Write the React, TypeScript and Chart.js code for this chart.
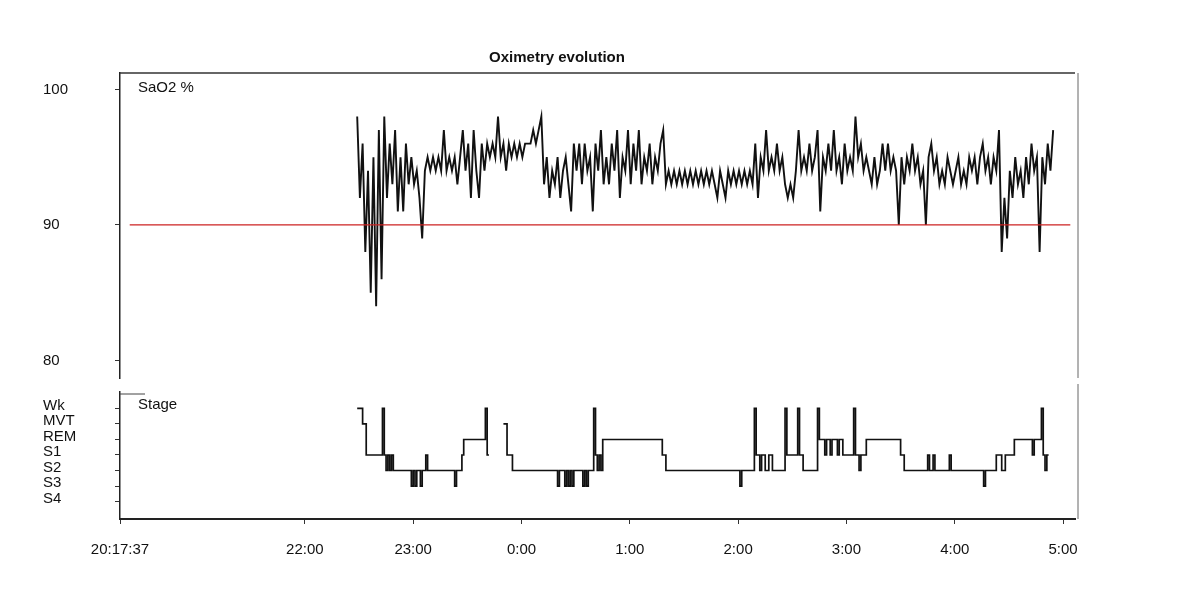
import React, { useEffect, useRef } from "react";
import { Chart, registerables } from "chart.js";

Chart.register(...registerables);

// ---------- text ----------
const TITLE = "Oximetry evolution";
const SPO2_LABEL = "SaO2 %";
const STAGE_LABEL = "Stage";

// ---------- time axis ----------
const START_TIME = "20:17:37";
const END_TIME = "5:06:36";
const X_TICK_LABELS = ["20:17:37", "22:00", "23:00", "0:00", "1:00", "2:00", "3:00", "4:00", "5:00"];

// ---------- SpO2 ----------
const SPO2_TICKS = [80, 90, 100];
const SPO2_THRESHOLD = 90;
const THRESHOLD_FROM = "20:23";
const THRESHOLD_TO = "5:04";
const SPO2_START = "22:29";
const SPO2_STEP_MIN = 1.5;
const SPO2_VALUES = [
  98, 92, 96, 88, 94, 85, 95, 84, 97, 86,
  98, 92, 96, 93, 97, 91, 95, 91, 96, 93,
  95, 93, 94, 92, 89, 94, 95, 94, 95, 94,
  95, 94, 97, 94, 95, 94, 95, 93, 95, 97,
  94, 96, 92, 97, 94, 92, 96, 94, 96, 95,
  96, 95, 98, 95, 96, 94, 96, 95, 96, 95,
  96, 95, 96, 96, 96, 97, 96, 97, 98, 93,
  95, 92, 94, 93, 95, 92, 94, 95, 93, 91,
  96, 94, 96, 93, 96, 94, 95, 91, 96, 94,
  97, 93, 95, 93, 96, 94, 97, 92, 95, 94,
  97, 93, 96, 94, 97, 93, 95, 94, 96, 93,
  95, 94, 96, 97, 93, 94, 93, 94, 93, 94,
  93, 94, 93, 94, 93, 94, 93, 94, 93, 94,
  93, 94, 93, 92, 94, 93, 92, 94, 93, 94,
  93, 94, 93, 94, 93, 94, 93, 96, 92, 95,
  94, 97, 94, 95, 94, 96, 94, 95, 93, 92,
  93, 92, 94, 97, 94, 95, 94, 96, 94, 95,
  97, 91, 95, 94, 96, 94, 97, 94, 95, 93,
  96, 94, 95, 94, 98, 95, 96, 94, 95, 94,
  93, 95, 93, 94, 96, 94, 96, 94, 95, 94,
  90, 95, 93, 95, 94, 96, 94, 95, 93, 94,
  90, 95, 96, 94, 95, 93, 94, 93, 95, 94,
  93, 94, 95, 93, 94, 93, 95, 94, 95, 93,
  95, 96, 94, 95, 93, 95, 94, 97, 88, 92,
  89, 94, 92, 95, 93, 94, 92, 95, 93, 96,
  94, 95, 88, 95, 93, 96, 94, 97,
];

// ---------- sleep stages ----------
const STAGE_NAMES = ["Wk", "MVT", "REM", "S1", "S2", "S3", "S4"];
const STAGE_TIMES = [
  "22:29", "22:32", "22:34", "22:43", "22:44", "22:45", "22:46", "22:47", "22:48", "22:49",
  "22:59", "23:00", "23:01", "23:02", "23:04", "23:05", "23:07", "23:08", "23:23", "23:24",
  "23:27", "23:28", "23:40", "23:41", "23:42", "23:46",
  "23:50", "23:52", "23:55", "0:20", "0:21", "0:24", "0:25", "0:26", "0:27", "0:28",
  "0:29", "0:34", "0:35", "0:36", "0:37", "0:40", "0:41", "0:42", "0:43", "0:44",
  "0:45", "1:18", "1:20", "2:01", "2:02", "2:09", "2:10", "2:12", "2:13", "2:15",
  "2:17", "2:19", "2:26", "2:27", "2:33", "2:34", "2:36", "2:44", "2:45", "2:48",
  "2:49", "2:51", "2:52", "2:55", "2:56", "2:58", "3:04", "3:05", "3:07", "3:08",
  "3:11", "3:30", "3:32", "3:45", "3:46", "3:48", "3:49", "3:57", "3:58", "4:16",
  "4:17", "4:23", "4:26", "4:28", "4:33", "4:43", "4:44", "4:48", "4:49", "4:50",
  "4:51", "4:52",
];
const STAGE_VALUES: (string | null)[] = [
  "Wk", "MVT", "S1", "Wk", "S1", "S2", "S1", "S2", "S1", "S2",
  "S3", "S2", "S3", "S2", "S3", "S2", "S1", "S2", "S3", "S2",
  "S1", "REM", "Wk", "S1", "S1", null,
  "MVT", "S1", "S2", "S3", "S2", "S3", "S2", "S3", "S2", "S3",
  "S2", "S3", "S2", "S3", "S2", "Wk", "S1", "S2", "S1", "S2",
  "REM", "S1", "S2", "S3", "S2", "Wk", "S1", "S2", "S1", "S2",
  "S1", "S2", "Wk", "S1", "Wk", "S1", "S2", "Wk", "REM", "S1",
  "REM", "S1", "REM", "S1", "REM", "S1", "Wk", "S1", "S2", "S1",
  "REM", "S1", "S2", "S1", "S2", "S1", "S2", "S1", "S2", "S3",
  "S2", "S1", "S2", "S1", "REM", "S1", "REM", "Wk", "S1", "S2",
  "S1", "S1",
];

// ---------- helpers ----------
function toHours(t: string): number {
  const p = t.split(":").map(Number);
  let h = p[0] + (p[1] || 0) / 60 + (p[2] || 0) / 3600;
  if (p[0] < 12) h += 24;
  return h;
}

const FONT = '"Liberation Sans", Arial, sans-serif';
const INK = "#111111";
const X_MIN = toHours(START_TIME);
const X_MAX = toHours(END_TIME);
const LEFT_PAD = 43;
const AXIS_W = 77;
const RIGHT_PAD = 107;

const topDecor = {
  id: "topDecor",
  afterDraw(chart: any) {
    const { ctx, chartArea: a } = chart;
    ctx.save();
    ctx.strokeStyle = "#333";
    ctx.lineWidth = 1.5;
    ctx.beginPath();
    ctx.moveTo(a.left, a.top);
    ctx.lineTo(a.right, a.top);
    ctx.stroke();
    ctx.strokeStyle = "#666";
    ctx.lineWidth = 1;
    ctx.beginPath();
    ctx.moveTo(a.right + 3, a.top);
    ctx.lineTo(a.right + 3, a.bottom);
    ctx.stroke();
    ctx.fillStyle = INK;
    ctx.textBaseline = "middle";
    ctx.textAlign = "center";
    ctx.font = `bold 15px ${FONT}`;
    ctx.fillText(TITLE, a.left + 437, a.top - 15);
    ctx.textAlign = "left";
    ctx.font = `15px ${FONT}`;
    ctx.fillText(SPO2_LABEL, a.left + 18, a.top + 15);
    ctx.restore();
  },
};

const bottomDecor = {
  id: "bottomDecor",
  afterDraw(chart: any) {
    const { ctx, chartArea: a } = chart;
    ctx.save();
    ctx.strokeStyle = "#666";
    ctx.lineWidth = 1;
    ctx.beginPath();
    ctx.moveTo(a.right + 3, a.top - 8);
    ctx.lineTo(a.right + 3, a.bottom);
    ctx.stroke();
    ctx.strokeStyle = "#444";
    ctx.beginPath();
    ctx.moveTo(a.left, a.top + 2);
    ctx.lineTo(a.left + 25, a.top + 2);
    ctx.stroke();
    ctx.fillStyle = INK;
    ctx.textBaseline = "middle";
    ctx.textAlign = "left";
    ctx.font = `15px ${FONT}`;
    ctx.fillText(STAGE_LABEL, a.left + 18, a.top + 13);
    ctx.restore();
  },
};

export default function App() {
  const topRef = useRef<HTMLCanvasElement | null>(null);
  const botRef = useRef<HTMLCanvasElement | null>(null);

  useEffect(() => {
    const t0 = toHours(SPO2_START);
    const spo2Points = SPO2_VALUES.map((v, i) => ({ x: t0 + (i * SPO2_STEP_MIN) / 60, y: v }));
    const thresholdPoints = [
      { x: toHours(THRESHOLD_FROM), y: SPO2_THRESHOLD },
      { x: toHours(THRESHOLD_TO), y: SPO2_THRESHOLD },
    ];
    const stagePoints = STAGE_TIMES.map((t, i) => ({
      x: toHours(t),
      y: STAGE_VALUES[i] === null ? null : STAGE_NAMES.indexOf(STAGE_VALUES[i] as string),
    }));

    const tickFont = { family: FONT, size: 15 };

    const top = new Chart(topRef.current as HTMLCanvasElement, {
      type: "line",
      data: {
        datasets: [
          {
            data: thresholdPoints,
            borderColor: "#cc2222",
            borderWidth: 1.3,
            pointRadius: 0,
            order: 0,
          },
          {
            data: spo2Points,
            borderColor: INK,
            borderWidth: 1.9,
            pointRadius: 0,
            tension: 0,
            order: 1,
          },
        ],
      },
      options: {
        responsive: false,
        animation: false,
        events: [],
        layout: { padding: { left: LEFT_PAD, right: RIGHT_PAD, top: 73, bottom: 2 } },
        plugins: { legend: { display: false }, tooltip: { enabled: false } },
        scales: {
          x: { type: "linear", min: X_MIN, max: X_MAX, display: false },
          y: {
            type: "linear",
            min: 78.71,
            max: 101.21,
            afterBuildTicks: (s: any) => {
              s.ticks = SPO2_TICKS.map((v) => ({ value: v }));
            },
            afterFit: (s: any) => {
              s.width = AXIS_W;
            },
            ticks: { crossAlign: "far", color: INK, font: tickFont, autoSkip: false },
            grid: { drawOnChartArea: false, tickLength: 5, color: "#333" },
            border: { color: "#222", width: 1.5 },
          },
        },
      } as any,
      plugins: [topDecor],
    });

    const bottom = new Chart(botRef.current as HTMLCanvasElement, {
      type: "line",
      data: {
        datasets: [
          {
            data: stagePoints as any,
            borderColor: INK,
            borderWidth: 1.7,
            pointRadius: 0,
            stepped: true,
            spanGaps: false,
          },
        ],
      },
      options: {
        responsive: false,
        animation: false,
        events: [],
        layout: { padding: { left: LEFT_PAD, right: RIGHT_PAD, top: 8, bottom: 0 } },
        plugins: { legend: { display: false }, tooltip: { enabled: false } },
        scales: {
          x: {
            type: "linear",
            min: X_MIN,
            max: X_MAX,
            afterBuildTicks: (s: any) => {
              s.ticks = X_TICK_LABELS.map((l) => ({ value: toHours(l) }));
            },
            afterFit: (s: any) => {
              s.height = 71;
            },
            ticks: {
              color: INK,
              font: tickFont,
              autoSkip: false,
              maxRotation: 0,
              padding: 17,
              callback: (_v: any, i: number) => X_TICK_LABELS[i],
            },
            grid: { drawOnChartArea: false, tickLength: 5, color: "#333" },
            border: { color: "#222", width: 2 },
          },
          y: {
            type: "linear",
            reverse: true,
            min: -1.06,
            max: 7.125,
            afterBuildTicks: (s: any) => {
              s.ticks = STAGE_NAMES.map((_n, i) => ({ value: i }));
            },
            afterFit: (s: any) => {
              s.width = AXIS_W;
            },
            ticks: {
              crossAlign: "far",
              color: INK,
              font: tickFont,
              autoSkip: false,
              labelOffset: -3,
              callback: (v: any) => STAGE_NAMES[v],
            },
            grid: { drawOnChartArea: false, tickLength: 5, color: "#333" },
            border: { color: "#222", width: 1.5 },
          },
        },
      } as any,
      plugins: [bottomDecor],
    });

    return () => {
      top.destroy();
      bottom.destroy();
    };
  }, []);

  return (
    <div style={{ position: "absolute", left: 0, top: 0, width: 1182, height: 590, background: "#fff" }}>
      <canvas
        ref={topRef}
        width={1182}
        height={390}
        style={{ position: "absolute", left: 0, top: 0, display: "block" }}
      />
      <canvas
        ref={botRef}
        width={1182}
        height={210}
        style={{ position: "absolute", left: 0, top: 380, display: "block" }}
      />
    </div>
  );
}
